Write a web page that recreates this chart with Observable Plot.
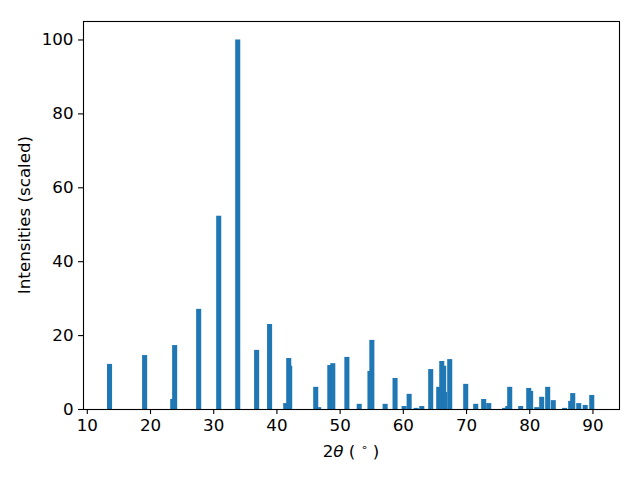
<!DOCTYPE html>
<html>
<head>
<meta charset="utf-8">
<script src="https://cdn.jsdelivr.net/npm/d3@7"></script>
<script src="https://cdn.jsdelivr.net/npm/@observablehq/plot@0.6"></script>
<style>
  html, body { margin: 0; padding: 0; background: #fff; }
  #chart { width: 640px; height: 480px; }
</style>
</head>
<body>
<div id="chart"></div>
<script>
// Peak positions (2θ, degrees) and scaled intensities
const twoTheta = [13.6, 19.15, 23.6, 23.9, 27.7, 30.87, 33.88, 36.87, 38.92, 41.47, 41.95, 42.1,
  46.22, 46.69, 48.45, 48.92, 51.15, 53.1, 54.8, 55.1, 57.2, 58.77, 60.2, 61.0, 62.1, 63.0,
  64.41, 65.68, 66.16, 66.46, 66.62, 67.42, 69.95, 71.53, 72.79, 73.59, 76.1, 76.6, 76.91,
  78.65, 79.92, 80.22, 81.18, 81.97, 82.92, 83.8, 85.6, 86.56, 86.88, 87.83, 88.85, 89.89];
const intensity = [12.2, 14.6, 2.7, 17.3, 27.1, 52.3, 100, 16.0, 23.0, 1.6, 13.8, 11.7,
  6.0, 0.5, 11.9, 12.4, 14.1, 1.4, 10.3, 18.7, 1.4, 8.4, 0.8, 4.1, 0.3, 0.8,
  10.8, 6.0, 13.0, 11.7, 4.6, 13.5, 6.8, 1.4, 2.7, 1.6, 0.3, 0.8, 6.0,
  0.8, 5.7, 4.9, 0.5, 3.3, 6.0, 2.4, 0.3, 2.2, 4.3, 1.6, 1.1, 3.8];
const xTicks = [10, 20, 30, 40, 50, 60, 70, 80, 90];
const yTicks = [0, 20, 40, 60, 80, 100];
const barWidth = 0.8;

const data = twoTheta.map((x, i) => ({x, y: intensity[i]}));

const W = 640, H = 480;
const mL = 83, mR = 21, mT = 21, mB = 71;
const FS = 16.7;

const chart = Plot.plot({
  width: W,
  height: H,
  marginLeft: mL,
  marginRight: mR,
  marginTop: mT,
  marginBottom: mB,
  style: {fontFamily: "DejaVu Sans", fontSize: FS + "px", color: "black", background: "white"},
  x: {domain: [9.4, 94.2], label: null},
  y: {domain: [0, 105], label: null},
  marks: [
    Plot.rectY(data, {
      x1: d => d.x - barWidth / 2,
      x2: d => d.x + barWidth / 2,
      y1: 0,
      y2: "y",
      fill: "#1f77b4"
    }),
    Plot.axisX({ticks: xTicks, tickSize: 5, tickPadding: 5, fontSize: FS, label: null, strokeWidth: 1.1}),
    Plot.axisY({ticks: yTicks, tickSize: 5, tickPadding: 5, fontSize: FS, label: null, strokeWidth: 1.1}),
    Plot.frame({stroke: "black", strokeWidth: 1.1})
  ]
});

document.getElementById("chart").appendChild(chart);

const svg = d3.select(chart);
// y axis label
svg.append("text")
  .attr("transform", `translate(30, ${(mT + (H - mB)) / 2}) rotate(-90)`)
  .attr("text-anchor", "middle")
  .attr("font-family", "DejaVu Sans")
  .attr("font-size", FS)
  .attr("fill", "black")
  .text("Intensities (scaled)");

// x axis label: 2θ (°)
const xl = svg.append("text")
  .attr("x", (mL + (W - mR)) / 2)
  .attr("y", 457)
  .attr("text-anchor", "middle")
  .attr("font-family", "DejaVu Sans")
  .attr("font-size", FS)
  .attr("fill", "black");
xl.append("tspan").text("2");
xl.append("tspan").attr("font-style", "italic").text("θ");
xl.append("tspan").text(" ( ");
xl.append("tspan").attr("font-size", 11).attr("dy", -6).text("∘");
xl.append("tspan").attr("dy", 6).text(" )");
</script>
</body>
</html>
